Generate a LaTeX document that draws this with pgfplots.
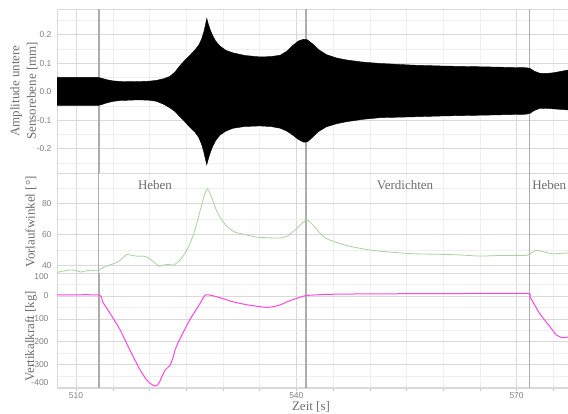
\documentclass[border=0pt]{standalone}
\usepackage{fontspec}
\setmainfont{Liberation Serif}
\newfontfamily\tickfont{Liberation Sans}
\usepackage{pgfplots}
\pgfplotsset{compat=1.18}
\definecolor{tickgray}{HTML}{7F7F7F}
\definecolor{labgray}{HTML}{6E6E6E}
\definecolor{majgrid}{HTML}{D9D9D9}
\definecolor{mingrid}{HTML}{EFEFEF}
\definecolor{phase}{HTML}{ADADAD}
\definecolor{vwgreen}{HTML}{A6D49A}
\definecolor{vkmag}{HTML}{FF45DF}
\pgfplotsset{
  panel/.style={
    scale only axis, width=511pt, xmin=507.4, xmax=577,
    axis line style={draw=majgrid, line width=0.5pt},
    grid=both,
    major grid style={majgrid, line width=0.6pt},
    minor grid style={mingrid, line width=0.5pt},
    xtick={510,540,570},
    minor xtick={515,520,525,530,535,545,550,555,560,565,575},
    extra x ticks={513.1,541.3,571.8},
    extra x tick labels={},
    extra x tick style={grid=major, major grid style={phase, line width=1.3pt}, major tick length=0pt},
    ytick style={draw=none},
    tick label style={font=\tickfont\fontsize{8.5}{10}\selectfont, text=tickgray},
    /pgf/number format/assume math mode=true,
    yticklabel style={xshift=-2pt},
  },
  upper/.style={xticklabels={}, xtick style={draw=none}},
}
\begin{document}
\begin{tikzpicture}
\useasboundingbox (0pt,0pt) rectangle (568pt,414pt);
% top panel
\begin{axis}[panel, upper, at={(57pt,241pt)}, anchor=south west, height=164pt,
  ymin=-0.285, ymax=0.29,
  ytick={-0.2,-0.1,0,0.1,0.2},
  minor ytick={-0.25,-0.15,-0.05,0.05,0.15,0.25},
  yticklabel style={/pgf/number format/.cd, fixed, fixed zerofill, precision=1}]
\addplot[fill=black, draw=black, line width=0.4pt] coordinates {
(507.4,0.050) (510,0.050) (513.0,0.050) (513.5,0.047) (514.2,0.042) (515.0,0.038)
(516,0.036) (518,0.035) (519,0.036) (520,0.037) (521,0.040) (522,0.046)
(522.8,0.054) (523.5,0.070) (524.1,0.090) (524.8,0.110) (525.5,0.128)
(526.2,0.147) (526.7,0.163) (527.1,0.185) (527.4,0.210) (527.6,0.232) (527.8,0.257)
(528.0,0.238) (528.3,0.215) (528.6,0.197) (529.0,0.178) (529.6,0.160)
(530.4,0.145) (531.4,0.136) (533,0.127) (535,0.122) (536.5,0.123) (537.8,0.128)
(538.7,0.142) (539.5,0.162) (540.3,0.178) (541.0,0.184) (541.5,0.182)
(542.2,0.168) (543.0,0.148) (544.1,0.130) (545.5,0.118) (546.9,0.111)
(549,0.104) (551.4,0.099) (556,0.093) (560,0.090) (566,0.087)
(571.3,0.084) (571.8,0.082) (572.4,0.072) (573.1,0.065) (574.0,0.064)
(574.9,0.066) (576.0,0.071) (577.0,0.076)
(577.0,-0.064) (576.0,-0.062) (574.9,-0.060) (574.0,-0.058) (573.1,-0.059)
(572.4,-0.066) (571.8,-0.076) (571.3,-0.079) (566,-0.082)
(560,-0.085) (556,-0.088) (551.4,-0.091) (549,-0.097) (546.9,-0.105)
(545.5,-0.112) (544.1,-0.123) (543.0,-0.140) (542.2,-0.160) (541.5,-0.176)
(541.0,-0.177) (540.3,-0.168) (539.5,-0.152) (538.7,-0.138) (537.8,-0.128)
(536.5,-0.122) (535,-0.120) (533,-0.122) (531.4,-0.128) (530.4,-0.138)
(529.6,-0.152) (529.0,-0.172) (528.6,-0.192) (528.3,-0.212) (528.0,-0.237)
(527.8,-0.256) (527.6,-0.235) (527.4,-0.212) (527.1,-0.185) (526.7,-0.160)
(526.2,-0.142) (525.5,-0.125) (524.8,-0.105) (524.1,-0.087) (523.5,-0.070)
(522.8,-0.057) (522,-0.045) (521,-0.034) (520,-0.030) (519,-0.029) (518,-0.029)
(516,-0.031) (515.0,-0.034) (514.2,-0.039) (513.5,-0.045) (513.0,-0.048)
(510,-0.048) (507.4,-0.048)
};
\end{axis}
% middle panel
\begin{axis}[panel, upper, at={(57pt,141pt)}, anchor=south west, height=100pt,
  ymin=35, ymax=100,
  ytick={40,60,80}, minor ytick={50,70,90}]
\addplot[vwgreen, line width=0.8pt, smooth, tension=0.3] coordinates {
(507.4,35.4) (508.2,36.2) (509.2,37.0) (510.0,36.6) (510.6,35.6) (511.3,36.3)
(512.0,36.8) (512.6,36.4) (513.1,36.6) (513.6,38.3) (514.6,40.2) (515.6,42.0)
(516.4,45.0) (516.9,47.0) (517.6,46.5) (518.3,45.9) (519.0,46.0) (519.7,45.3)
(520.5,42.5) (521.3,39.4) (521.9,40.2) (522.6,40.6) (523.3,40.1) (524.1,43.2)
(524.8,47.5) (525.5,54.0) (526.2,63.0) (526.9,75.6) (527.5,86.0) (527.9,89.7)
(528.4,85.0) (529.0,77.0) (529.6,71.3) (530.5,65.5) (531.6,61.6) (533.0,60.0)
(534.6,58.3) (536.2,57.9) (537.8,57.7) (538.8,59.0) (539.5,61.6) (540.4,65.5)
(541.4,69.6) (542.3,66.0) (543.2,61.0) (544.1,57.3) (545.4,55.0) (546.8,52.9)
(548.5,51.2) (550.4,49.7) (553.0,48.5) (555.9,47.5) (559.0,47.2) (562.0,46.8)
(565.0,46.0) (568.0,46.4) (571.3,46.4) (572.0,48.0) (572.6,49.7) (573.5,49.0)
(574.9,47.5) (576.0,47.8) (577.0,48.0)
};
\node[text=labgray, font=\fontsize{13}{15}\selectfont] at (axis cs:520.75,92.1) {Heben};
\node[text=labgray, font=\fontsize{13}{15}\selectfont] at (axis cs:554.8,92.1) {Verdichten};
\node[text=labgray, font=\fontsize{13}{15}\selectfont] at (axis cs:574.45,92.1) {Heben};
\end{axis}
% bottom panel
\begin{axis}[panel, at={(57pt,26pt)}, anchor=south west, height=115pt,
  ymin=-402, ymax=100,
  ytick={-400,-300,-200,-100,0,100}, yticklabels={,-300,-200,-100,0,},
  minor ytick={-350,-250,-150,-50,50},
  extra y ticks={-380,83}, extra y tick labels={-400,100},
  extra y tick style={grid=none},
  xtick pos=bottom, tick align=outside,
  major tick length=3pt, minor tick length=3pt,
  xtick style={draw=majgrid!80!gray, line width=0.5pt},
  xticklabel style={yshift=1.5pt}]
\addplot[vkmag, line width=1pt, smooth, tension=0.3] coordinates {
(507.4,4) (513.1,4) (513.6,-25) (514.6,-75) (516.0,-148) (517.3,-235) (518.7,-322)
(519.5,-362) (520.1,-382) (520.7,-393) (521.1,-388) (521.4,-373) (521.8,-345)
(522.1,-325) (522.8,-302) (523.2,-270) (523.5,-235) (524.1,-190) (525.5,-104)
(526.9,-32) (527.6,4) (528.6,1) (530.0,-12) (531.4,-26) (533.5,-40) (535.9,-50)
(537.0,-46) (537.8,-39) (539.2,-20) (540.5,-6) (541.4,2) (544.6,7) (550.4,9)
(560,10) (571.3,11) (571.8,-3) (573.1,-75) (574.5,-133) (575.4,-170) (576.2,-182)
(577.0,-180)
};
\end{axis}
% axis titles
\node[rotate=90, align=center, text=labgray, font=\fontsize{13}{16.5}\selectfont] at (24pt,323pt) {Amplitude untere\\Sensorebene [mm]};
\node[rotate=90, text=labgray, font=\fontsize{13}{15}\selectfont] at (31pt,192pt) {Vorlaufwinkel [°]};
\node[rotate=90, text=labgray, font=\fontsize{13}{15}\selectfont] at (31pt,78pt) {Vertikalkraft [kg]};
\node[anchor=base, text=labgray, font=\fontsize{13}{15}\selectfont] at (311pt,3pt) {Zeit [s]};
\end{tikzpicture}
\end{document}
